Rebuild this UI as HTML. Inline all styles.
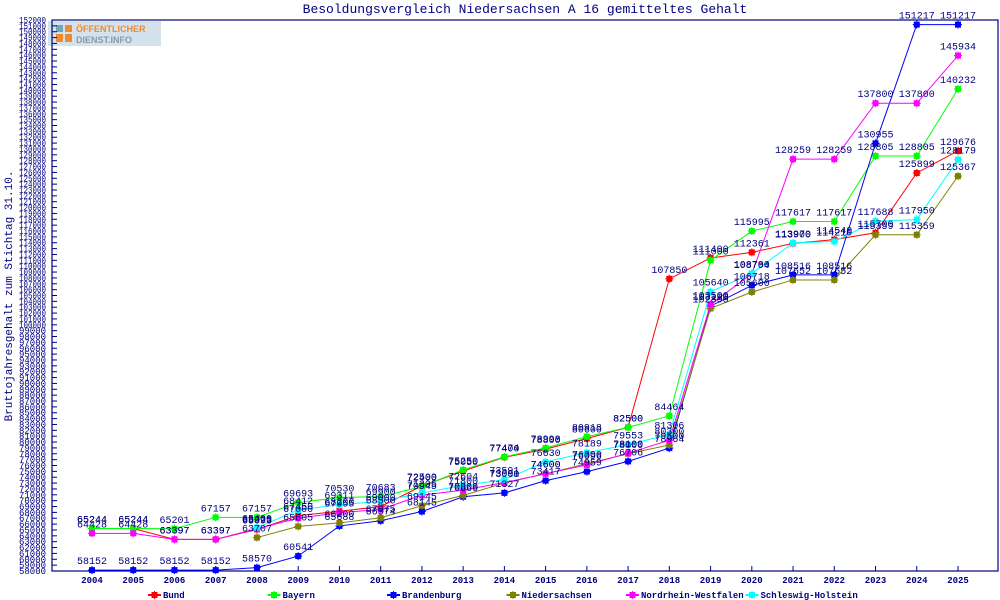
<!DOCTYPE html>
<html><head><meta charset="utf-8"><style>
body{margin:0;background:#fff;}
svg{display:block;font-family:"Liberation Mono",monospace;}
</style></head><body>
<svg id="chart" width="1000" height="600" viewBox="0 0 1000 600">
<text x="525" y="13" text-anchor="middle" font-size="13" fill="#000080">Besoldungsvergleich Niedersachsen A 16 gemitteltes Gehalt</text>
<g>
<rect x="48" y="21" width="113" height="25" fill="#c8dbe6" opacity="0.8"/>
<rect x="56" y="25" width="7" height="7" fill="#6fa7c0"/><rect x="65" y="25" width="7" height="7" fill="#f08a30"/>
<rect x="56" y="34" width="7" height="8" fill="#f08a30"/><rect x="65" y="34" width="7" height="8" fill="#f08a30"/>
<text x="76" y="32" font-family="Liberation Sans,sans-serif" font-weight="bold" font-size="9" fill="#f08a30">ÖFFENTLICHER</text>
<text x="76" y="43" font-family="Liberation Sans,sans-serif" font-weight="bold" font-size="9" fill="#8a9aa6">DIENST.INFO</text>
</g>
<text transform="translate(12,296) rotate(-90)" text-anchor="middle" font-size="11" fill="#000080">Bruttojahresgehalt zum Stichtag 31.10.</text>
<g id="axes"></g><g id="series"></g><g id="legend"></g>
</svg>
<script>
const years=[2004,2005,2006,2007,2008,2009,2010,2011,2012,2013,2014,2015,2016,2017,2018,2019,2020,2021,2022,2023,2024,2025];
const seriesNames=["Bund","Bayern","Brandenburg","Niedersachsen","Nordrhein-Westfalen","Schleswig-Holstein"];
const seriesColors=["#ff0000","#00ff00","#0000ff","#808000","#ff00ff","#00ffff"];
const bund=[65244,65244,63397,63397,65093,67450,68200,69000,72500,75050,77400,78800,80600,82500,107850,111400,112361,113900,114540,115700,125899,129676];
const bayern=[65244,65244,65201,67157,67157,69693,70530,70683,72400,75250,77474,78998,80918,82500,84464,111000,115995,117617,117617,128805,128805,140232];
const brandenburg=[58152,58152,58152,58152,58570,60541,65688,66574,68145,70666,71327,73417,74959,76706,78964,103190,106718,108516,108516,130955,151217,151217];
const niedersachsen=[null,null,null,null,63707,65605,66200,67075,69145,70900,73000,74600,76300,78000,79500,102800,105600,107652,107652,115359,115359,125367];
const nrw=[64428,64428,63397,63397,65225,67000,67955,68500,70945,71800,73091,74600,76096,78100,80300,103500,108704,128259,128259,137800,137800,145934];
const sh=[null,null,null,null,65400,68412,69311,69900,71305,72604,73591,76630,78189,79553,81306,105640,108780,113970,114210,117688,117950,128179];
const allSeries=[bund,bayern,brandenburg,niedersachsen,nrw,sh];
const yMin=58000,yMax=152000,yStep=1000;
const NS="http://www.w3.org/2000/svg";
const L=52,R=998,T=20,B=571;
const x=i=>92+i*(958-92)/(years.length-1);
const y=v=>B-(v-yMin)*(B-T)/(yMax-yMin);
function mk(tag,attrs,parent){const e=document.createElementNS(NS,tag);for(const k in attrs)e.setAttribute(k,attrs[k]);parent.appendChild(e);return e;}
const ax=document.getElementById('axes');
const frame=mk('rect',{x:L,y:T,width:R-L,height:B-T,fill:'none',stroke:'#000080','stroke-width':1.2},ax);


for(let v=yMin;v<=yMax;v+=yStep){
  const yy=y(v);
  const t=mk('line',{x1:L,x2:L+5,y1:yy,y2:yy,stroke:'#000080'},ax);
  
  
  const lb=mk('text',{x:46,y:yy+3,'text-anchor':'end','font-size':9,fill:'#000080',textLength:27,lengthAdjust:'spacingAndGlyphs'},ax);
  lb.textContent=v;
  
  
}
years.forEach((yr,i)=>{
  const t=mk('line',{x1:x(i),x2:x(i),y1:B,y2:B-5,stroke:'#000080'},ax);
  
  
  const lb=mk('text',{x:x(i),y:B+12,'text-anchor':'middle','font-size':9,'font-weight':'bold',fill:'#000080'},ax);
  lb.textContent=yr;
  
  
});
function marker(cx,cy,color,parent){
  const g=mk('g',{},parent);
  mk('rect',{x:cx-3,y:cy-3,width:6,height:6,fill:color},g);
  mk('rect',{x:cx-0.5,y:cy-4,width:1,height:8,fill:color},g);
  mk('rect',{x:cx-4,y:cy-0.5,width:8,height:1,fill:color},g);
  return g;
}
const sg=document.getElementById('series');
allSeries.forEach((data,s)=>{
  const g=mk('g',{},sg);
  
  
  let d='';
  data.forEach((v,i)=>{if(v==null)return;d+=(d?'L':'M')+x(i)+' '+y(v);});
  mk('path',{d:d,fill:'none',stroke:seriesColors[s],'stroke-width':1},g);
  data.forEach((v,i)=>{
    if(v==null)return;
    const m=marker(x(i),y(v),seriesColors[s],g);
    
    
  });
});
allSeries.forEach((data,s)=>{
  data.forEach((v,i)=>{
    if(v==null)return;
    const lb=mk('text',{x:x(i),y:y(v)-6,'text-anchor':'middle','font-size':10,fill:'#000080'},sg);
    lb.textContent=v;
    
    
  });
});
const leg=document.getElementById('legend');
seriesNames.forEach((n,s)=>{
  const g=mk('g',{},leg);
  
  
  const lx=148+s*119.5;
  mk('line',{x1:lx,x2:lx+13,y1:595,y2:595,stroke:seriesColors[s],'stroke-width':2},g);
  marker(lx+6.5,595,seriesColors[s],g);
  const t=mk('text',{x:lx+15,y:598,'font-size':9,'font-weight':'bold',fill:'#000080'},g);
  t.textContent=n;
});
</script>
</body></html>
